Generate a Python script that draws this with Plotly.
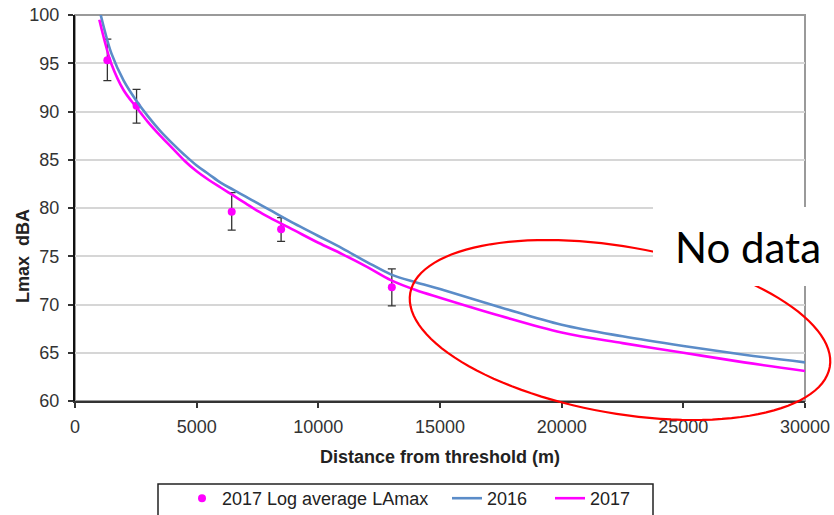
import numpy as np
import plotly.graph_objects as go

# ---------------- data ----------------
curve_x = [1000, 1250, 1500, 2000, 2500, 3000, 3500, 4000, 4500, 5000, 5500, 6000, 6500,
           7000, 7500, 8000, 9000, 10000, 11000, 12000, 13000, 14000, 15000,
           17500, 20000, 22500, 25000, 27500, 30000]
lamax_2016 = [100.6, 98.1, 96.0, 93.2, 91.2, 89.5, 88.0, 86.7, 85.5, 84.4, 83.5, 82.6, 81.9,
              81.2, 80.5, 79.8, 78.4, 77.1, 75.8, 74.4, 73.1, 72.3, 71.6,
              69.7, 67.9, 66.7, 65.7, 64.8, 64.0]
lamax_2017 = [99.5, 97.0, 94.9, 92.2, 90.5, 88.9, 87.5, 86.2, 84.9, 83.8, 82.9, 82.1, 81.3,
              80.5, 79.7, 79.0, 77.7, 76.4, 75.2, 73.9, 72.5, 71.5, 70.7,
              68.8, 67.1, 66.0, 65.0, 64.0, 63.1]

obs_x = [1330, 2530, 6440, 8470, 13020]
obs_y = [95.3, 90.6, 79.6, 77.8, 71.8]
obs_err_plus = [2.2, 1.7, 2.0, 1.2, 1.9]
obs_err_minus = [2.1, 1.8, 1.9, 1.25, 1.95]

x_ticks = [0, 5000, 10000, 15000, 20000, 25000, 30000]
y_ticks = [60, 65, 70, 75, 80, 85, 90, 95, 100]

# ---------------- layout geometry (window pixels) ----------------
W, H = 834, 515
PL, PR, PT, PB = 75, 805, 15, 401          # plot area
ML, MT, MR, MB = PL, PT, W - PR, H - PB
PW, PH = PR - PL, PB - PT


def px(xs):
    return (xs - PL) / PW


def py(ys):
    return (PB - ys) / PH


FONT = "Liberation Sans, Arial, sans-serif"
BLUE = "#5b8cc8"
MAGENTA = "#ff00ff"

fig = go.Figure()

fig.add_trace(go.Scatter(
    x=obs_x, y=obs_y, mode="markers", name="2017 Log average LAmax",
    marker=dict(color=MAGENTA, size=8),
    error_y=dict(type="data", array=obs_err_plus, arrayminus=obs_err_minus,
                 color="#333333", thickness=1.3, width=4),
    legend="legend",
))
fig.add_trace(go.Scatter(
    x=curve_x, y=lamax_2016, mode="lines", name="2016",
    line=dict(color=BLUE, width=2.6, shape="spline", smoothing=1.0),
    legend="legend2",
))
fig.add_trace(go.Scatter(
    x=curve_x, y=lamax_2017, mode="lines", name="2017",
    line=dict(color=MAGENTA, width=2.6, shape="spline", smoothing=1.0),
    legend="legend3",
))

# ellipse callout, defined in window pixels then mapped to paper coords
t = np.linspace(0, 2 * np.pi, 121)
cx, cy, a, b, th = 620, 330, 213, 83.3, np.deg2rad(10)
ex = cx + a * np.cos(t) * np.cos(th) - b * np.sin(t) * np.sin(th)
ey = cy + a * np.cos(t) * np.sin(th) + b * np.sin(t) * np.cos(th)
path = "M " + " L ".join(f"{px(u):.5f},{py(v):.5f}" for u, v in zip(ex, ey)) + " Z"

shapes = [
    dict(type="rect", xref="paper", yref="paper", x0=0, x1=1, y0=0, y1=1,
         line=dict(color="#9a9a9a", width=2), layer="below"),
    dict(type="path", xref="paper", yref="paper", path=path,
         line=dict(color="#ff0000", width=2.2), layer="above"),
    dict(type="rect", xref="paper", yref="paper", x0=px(653), x1=px(840),
         y0=py(286), y1=py(207), fillcolor="white", line=dict(width=0), layer="above"),
    dict(type="rect", xref="paper", yref="paper", x0=px(158), x1=px(653),
         y0=py(540), y1=py(484), line=dict(color="#222222", width=1.5), layer="above"),
]

leg_common = dict(orientation="h", xanchor="left", yanchor="top",
                  bgcolor="rgba(0,0,0,0)", borderwidth=0,
                  font=dict(family=FONT, size=18, color="#222222"))

fig.update_layout(
    width=W, height=H,
    margin=dict(l=ML, r=MR, t=MT, b=MB, autoexpand=False),
    paper_bgcolor="white", plot_bgcolor="white",
    font=dict(family=FONT, size=18, color="#222222"),
    shapes=shapes,
    showlegend=True,
    legend=dict(x=px(182), y=py(480), **leg_common),
    legend2=dict(x=px(447), y=py(480), **leg_common),
    legend3=dict(x=px(550), y=py(480), **leg_common),
    annotations=[
        dict(text="No data", xref="paper", yref="paper", x=px(748), y=py(247),
             showarrow=False,
             font=dict(family="Lato, Open Sans, sans-serif", size=42, color="black"),
             xanchor="center", yanchor="middle"),
        # y-axis title
        dict(text="<b>Lmax  dBA</b>", xref="paper", yref="paper", x=px(23), y=py(256),
             showarrow=False, textangle=-90, xanchor="center", yanchor="middle",
             font=dict(family=FONT, size=18, color="#222222")),
    ],
    xaxis=dict(
        range=[0, 30000], tickvals=x_ticks, ticktext=[str(v) for v in x_ticks],
        showgrid=False, zeroline=False,
        showline=True, linecolor="#333333", linewidth=2,
        ticks="outside", ticklen=5, tickcolor="#333333", tickwidth=1.5,
        ticklabeloverflow="allow", ticklabelstandoff=3,
        tickfont=dict(family=FONT, size=18, color="#333333"),
        title=dict(text="<b>Distance from threshold (m)</b>", standoff=15,
                   font=dict(family=FONT, size=18, color="#222222")),
        automargin=False,
    ),
    yaxis=dict(
        range=[60, 100], tickvals=y_ticks, ticktext=[str(v) for v in y_ticks],
        showgrid=True, gridcolor="#d6d6d6", gridwidth=1.5, zeroline=False,
        showline=True, linecolor="#111111", linewidth=2,
        ticks="outside", ticklen=5, tickcolor="#333333", tickwidth=1.5,
        ticklabeloverflow="allow", ticklabelstandoff=5,
        tickfont=dict(family=FONT, size=18, color="#333333"),
        automargin=False,
    ),
)

# remove the default 8px page margin so the figure fills the window exactly
fig.write_html("out.html", config={"displayModeBar": False},
               post_script="document.body.style.margin='0';")
